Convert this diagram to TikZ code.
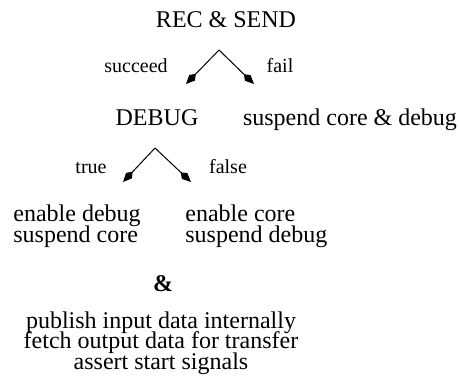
\documentclass[tikz,border=0pt]{standalone}
\usepackage{fontspec}
\setmainfont{Liberation Serif}
\usetikzlibrary{arrows.meta}
\newcommand{\nodefont}{\fontsize{12}{10.2}\selectfont\lineskiplimit=-5pt\relax}

\begin{document}
\begin{tikzpicture}[x=0.5pt, y=-0.5pt,
    every node/.style={inner sep=0pt, anchor=base, font=\nodefont},
    lbl/.style={font=\fontsize{10}{12}\selectfont},
    branch/.style={-{Kite[length=7pt,width=4pt,inset=2.6pt]}, line width=0.5pt}]
    \useasboundingbox (0,0) rectangle (459,385);

    % --- REC & SEND ---
    \node (rec) at (226,28) {REC \& SEND};
    \coordinate (recfork) at (219,50);
    \coordinate (recok) at (186,84);
    \coordinate (recfail) at (254,84);
    \draw[branch] (recfork) -- (recok);
    \draw[branch] (recfork) -- (recfail);
    \node[lbl] (succeed) at (136,73) {succeed};
    \node[lbl] (fail) at (280,73) {fail};

    % --- DEBUG ---
    \node (debug) at (157,125) {DEBUG};
    \node (suspall) at (350,125) {suspend core \& debug};
    \coordinate (dbgfork) at (155,148);
    \coordinate (dbgtrue) at (123,182);
    \coordinate (dbgfalse) at (191,182);
    \draw[branch] (dbgfork) -- (dbgtrue);
    \draw[branch] (dbgfork) -- (dbgfalse);
    \node[lbl] (true) at (91,173) {true};
    \node[lbl] (false) at (228,173) {false};

    % --- outcomes (base = last line) ---
    \node[anchor=base west, align=left] (endbg) at (13,242) {enable debug\\suspend core};
    \node[anchor=base west, align=left] (encore) at (185,242) {enable core\\suspend debug};

    \node[font=\nodefont\bfseries] (amp) at (163,291) {\&};
    \node[align=center] (always) at (161,369) {publish input data internally\\fetch output data for transfer\\assert start signals};
\end{tikzpicture}
\end{document}
